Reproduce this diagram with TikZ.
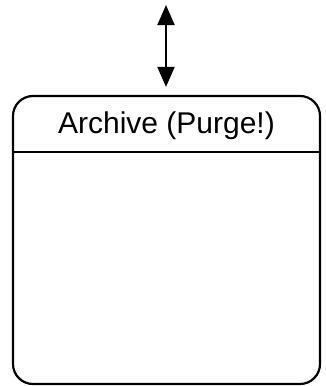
\documentclass[tikz,border=0pt]{standalone}
\usepackage{fontspec}
\setmainfont{Liberation Sans}
\usetikzlibrary{arrows.meta}
\begin{document}
\begin{tikzpicture}[x=1pt,y=-1pt,
  box/.style={draw=black,line width=2.2pt,rounded corners=20pt,minimum width=307pt,minimum height=288pt,inner sep=0pt},
  conn/.style={line width=2pt,{Triangle[length=20pt,width=17pt]}-{Triangle[length=20pt,width=17pt]}}]
\useasboundingbox (0,0) rectangle (326,386);
\node[box] (archive) at (166.5,240) {};
\node[inner sep=0pt,font=\fontsize{30}{36}\selectfont] (title) at (166.5,126) {Archive (Purge!)};
\draw[line width=1.8pt] (archive.west |- 0,152) -- (archive.east |- 0,152);
\coordinate (top) at (166,5);
\draw[conn,shorten >=8pt] (top) -- (top |- archive.north);
\end{tikzpicture}
\end{document}
